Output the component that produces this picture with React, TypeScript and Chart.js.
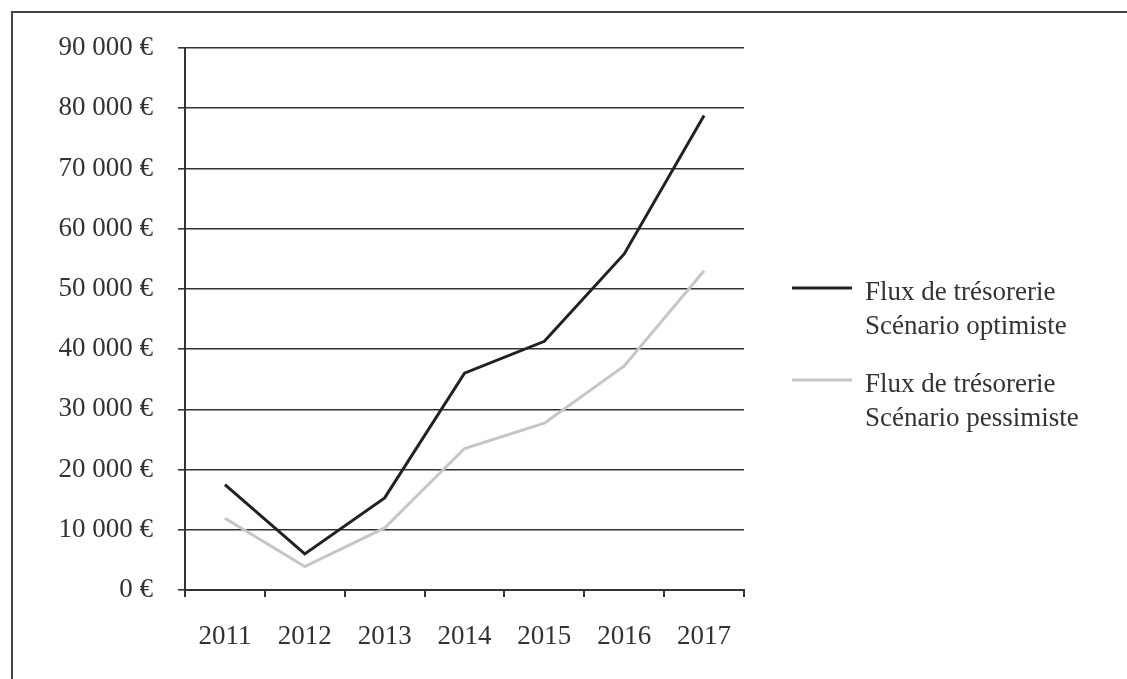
import React, { useEffect, useRef } from "react";
import { Chart, registerables } from "chart.js";

Chart.register(...registerables);

const years = ["2011", "2012", "2013", "2014", "2015", "2016", "2017"];
const optimiste = [17500, 6000, 15300, 36000, 41300, 55800, 78800];
const pessimiste = [11900, 3900, 10300, 23500, 27700, 37200, 53000];
const legendOptimiste = ["Flux de trésorerie", "Scénario optimiste"];
const legendPessimiste = ["Flux de trésorerie", "Scénario pessimiste"];
const yMin = 0;
const yMax = 90000;
const yStep = 10000;

const FONT = "'Liberation Serif', 'DejaVu Serif', serif";
const TEXT = "#333333";
const DARK = "#222222";
const LIGHT = "#c6c6c6";

const formatEuro = (v: number) =>
  String(Math.round(v)).replace(/\B(?=(\d{3})+(?!\d))/g, "\u00a0") + "\u00a0€";

const frameAndLegend = {
  id: "frameAndLegend",
  beforeDraw(chart: any) {
    const ctx = chart.ctx;
    ctx.save();
    ctx.fillStyle = "#ffffff";
    ctx.fillRect(0, 0, chart.width, chart.height);
    ctx.strokeStyle = "#444444";
    ctx.lineWidth = 2;
    ctx.beginPath();
    ctx.moveTo(12, chart.height);
    ctx.lineTo(12, 12);
    ctx.lineTo(chart.width, 12);
    ctx.stroke();
    ctx.restore();
  },
  afterDraw(chart: any) {
    const ctx = chart.ctx;
    const items = [
      { lines: legendOptimiste, color: DARK, y: 288 },
      { lines: legendPessimiste, color: LIGHT, y: 380 },
    ];
    ctx.save();
    ctx.font = `27px ${FONT}`;
    ctx.textBaseline = "alphabetic";
    ctx.textAlign = "left";
    items.forEach((it) => {
      ctx.strokeStyle = it.color;
      ctx.lineWidth = 3;
      ctx.beginPath();
      ctx.moveTo(792, it.y);
      ctx.lineTo(852, it.y);
      ctx.stroke();
      ctx.fillStyle = TEXT;
      it.lines.forEach((line, i) => {
        ctx.fillText(line, 865, it.y + 12 + i * 34);
      });
    });
    ctx.restore();
  },
};

export default function App() {
  const ref = useRef<HTMLCanvasElement | null>(null);

  useEffect(() => {
    if (!ref.current) return;
    const chart = new Chart(ref.current, {
      type: "line",
      data: {
        labels: years,
        datasets: [
          {
            label: legendOptimiste.join(" "),
            data: optimiste,
            borderColor: DARK,
            backgroundColor: DARK,
            borderWidth: 3,
            pointRadius: 0,
            tension: 0,
          },
          {
            label: legendPessimiste.join(" "),
            data: pessimiste,
            borderColor: LIGHT,
            backgroundColor: LIGHT,
            borderWidth: 3,
            pointRadius: 0,
            tension: 0,
          },
        ],
      },
      options: {
        responsive: false,
        animation: false,
        devicePixelRatio: 1,
        layout: { padding: { left: 0, top: 48, right: 383, bottom: 0 } },
        plugins: {
          legend: { display: false },
          tooltip: { enabled: false },
        },
        scales: {
          x: {
            offset: true,
            grid: {
              offset: true,
              drawOnChartArea: false,
              drawTicks: true,
              tickLength: 7,
              color: "#333333",
              lineWidth: 2,
            },
            border: { color: "#333333", width: 2 },
            ticks: {
              color: TEXT,
              font: { family: FONT, size: 27 },
              padding: 24,
              maxRotation: 0,
            },
            afterFit: (s: any) => {
              s.height = 89;
            },
          },
          y: {
            min: yMin,
            max: yMax,
            grid: {
              color: "#333333",
              lineWidth: 1.6,
              tickLength: 7,
            },
            border: { color: "#333333", width: 2 },
            ticks: {
              stepSize: yStep,
              color: TEXT,
              font: { family: FONT, size: 27 },
              padding: 25,
              callback: (v: any) => formatEuro(Number(v)),
            },
            afterFit: (s: any) => {
              s.width = 185;
            },
          },
        },
      },
      plugins: [frameAndLegend],
    });
    return () => chart.destroy();
  }, []);

  return (
    <div style={{ position: "fixed", left: 0, top: 0, width: 1127, height: 679, background: "#fff" }}>
      <canvas ref={ref} width={1127} height={679} style={{ display: "block" }} />
    </div>
  );
}
